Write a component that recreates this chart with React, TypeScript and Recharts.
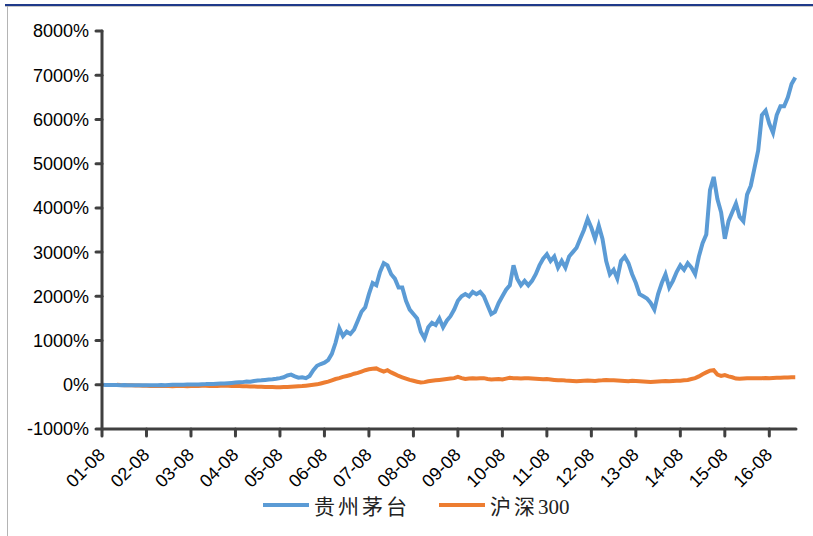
import { LineChart, Line, XAxis, YAxis } from "recharts";

// x axis: years since 2001-08, one label per August
const tickYears = [0, 1, 2, 3, 4, 5, 6, 7, 8, 9, 10, 11, 12, 13, 14, 15];
const tickLabels = [
  "01-08", "02-08", "03-08", "04-08", "05-08", "06-08", "07-08", "08-08",
  "09-08", "10-08", "11-08", "12-08", "13-08", "14-08", "15-08", "16-08",
];
const yTicks = [-1000, 0, 1000, 2000, 3000, 4000, 5000, 6000, 7000, 8000];

// monthly cumulative return (%), starting 2001-08
const maotai = [
  0, -3, -5, -4, -6, -8, -7, -9, -10, -12, -10, -12,
  -10, -8, -12, -9, -6, -8, -4, -2, 0, 3, 2, 5,
  4, 8, 6, 12, 15, 20, 18, 25, 30, 28, 35, 42,
  50, 55, 60, 75, 70, 85, 95, 100, 110, 120, 125, 135,
  150, 170, 210, 230, 190, 160, 170, 150, 200, 330, 430, 470,
  500, 560, 700, 950, 1280, 1100, 1200, 1150, 1250, 1450, 1650, 1750,
  2050, 2300, 2250, 2550, 2750, 2700, 2500, 2400, 2200, 2200, 1900, 1700,
  1600, 1500, 1200, 1050, 1300, 1400, 1350, 1500, 1300, 1450, 1550, 1700,
  1900, 2000, 2050, 2000, 2100, 2050, 2100, 2000, 1800, 1600, 1650, 1850,
  2000, 2150, 2250, 2700, 2400, 2250, 2350, 2250, 2350, 2500, 2700, 2850,
  2950, 2800, 2900, 2650, 2800, 2650, 2900, 3000, 3100, 3300, 3500, 3750,
  3550, 3300, 3600, 3300, 2800, 2500, 2600, 2400, 2800, 2900, 2750, 2500,
  2300, 2050, 2000, 1950, 1850, 1700, 2050, 2300, 2500, 2200, 2350, 2550,
  2700, 2600, 2750, 2650, 2500, 2900, 3200, 3400, 4400, 4700, 4200, 3900,
  3300, 3700, 3900, 4100, 3800, 3700, 4300, 4500, 4900, 5300, 6100, 6200,
  5900, 5700, 6100, 6300, 6300, 6500, 6800, 6950,
];

const hs300 = [
  null, null, null, null, 0, -5, -8, -10, -12, -15, -18, -20,
  -22, -25, -28, -26, -24, -28, -30, -32, -30, -28, -30, -32,
  -30, -28, -25, -22, -20, -25, -28, -25, -22, -20, -22, -25,
  -28, -30, -32, -35, -38, -40, -42, -45, -48, -50, -52, -55,
  -55, -52, -50, -45, -40, -35, -30, -20, -10, 0, 10, 30,
  50, 70, 100, 130, 150, 180, 200, 220, 250, 270, 300, 330,
  350, 360, 370, 330, 300, 330, 280, 240, 200, 170, 140, 110,
  90, 70, 50, 60, 80, 90, 100, 110, 120, 130, 140, 150,
  180, 150, 130, 140, 150, 140, 145, 150, 130, 120, 125, 130,
  120, 140, 160, 150, 145, 140, 150, 145, 140, 135, 130, 125,
  130, 120, 110, 100, 105, 95, 90, 85, 80, 85, 90, 95,
  90, 85, 95, 100, 110, 105, 100, 95, 90, 85, 80, 90,
  85, 80, 75, 70, 65, 70, 75, 80, 85, 80, 85, 90,
  90, 100, 110, 130, 150, 190, 240, 280, 320, 330, 230, 200,
  220, 190, 170, 140, 135, 140, 145, 150, 150, 145, 150, 155,
  150, 155, 160, 160, 165, 165, 170, 170,
];

const data = maotai.map((v, i) => ({ t: i / 12, maotai: v, hs300: hs300[i] }));

const BLUE = "#5B9BD5";
const ORANGE = "#ED7D31";
const AXIS = "#404040";
const sans = "'Liberation Sans', Arial, sans-serif";
const legendFont = "'Liberation Serif', 'Noto Sans CJK SC', serif";

const XTick = (props: any) => {
  const { x, y, payload } = props;
  const label = tickLabels[tickYears.indexOf(payload.value)];
  return (
    <g transform={`translate(${x + 4},${y + 18})`}>
      <text transform="rotate(-45)" textAnchor="end" fontSize={18} fontFamily={sans} fill="#000">
        {label}
      </text>
    </g>
  );
};

const LegendItem = ({ color, cjk, rest, left }: { color: string; cjk: string; rest: string; left: number }) => (
  <div style={{ position: "absolute", left, top: 490, display: "flex", alignItems: "center" }}>
    <div style={{ width: 46, height: 4, background: color, marginRight: 5 }} />
    <span style={{ fontFamily: legendFont, fontSize: 21, color: "#222", whiteSpace: "nowrap" }}>
      <span style={{ letterSpacing: 3 }}>{cjk}</span>
      {rest}
    </span>
  </div>
);

export default function App() {
  return (
    <div style={{ position: "absolute", left: 0, top: 0, width: 813, height: 536, background: "#fff" }}>
      <div style={{ position: "absolute", left: 5, top: 4, width: 808, height: 2, background: "#1f3a8a" }} />
      <div style={{ position: "absolute", left: 5, top: 6, width: 808, height: 1, background: "#c8c8c8" }} />
      <div style={{ position: "absolute", left: 7, top: 6, width: 1, height: 530, background: "#b4b4b4" }} />
      <LineChart
        width={813}
        height={536}
        data={data}
        margin={{ top: 31, right: 17, left: 0, bottom: 47 }}
      >
        <XAxis
          dataKey="t"
          type="number"
          domain={[0, 15.6]}
          ticks={tickYears}
          interval={0}
          height={60}
          tick={<XTick />}
          tickSize={7}
          tickMargin={2}
          axisLine={{ stroke: AXIS, strokeWidth: 3, strokeLinecap: "round" }}
          tickLine={{ stroke: AXIS, strokeWidth: 3, strokeLinecap: "round" }}
        />
        <YAxis
          type="number"
          domain={[-1000, 8000]}
          ticks={yTicks}
          interval={0}
          width={102}
          tickFormatter={(v: number) => `${v}%`}
          tick={{ fontSize: 18, fontFamily: sans, fill: "#000" }}
          tickSize={6}
          tickMargin={7}
          axisLine={{ stroke: AXIS, strokeWidth: 3, strokeLinecap: "round" }}
          tickLine={{ stroke: AXIS, strokeWidth: 3, strokeLinecap: "round" }}
        />
        <Line
          dataKey="hs300"
          stroke={ORANGE}
          strokeWidth={4}
          dot={false}
          isAnimationActive={false}
        />
        <Line
          dataKey="maotai"
          stroke={BLUE}
          strokeWidth={4}
          dot={false}
          isAnimationActive={false}
        />
      </LineChart>
      <LegendItem color={BLUE} cjk="贵州茅台" rest="" left={263} />
      <LegendItem color={ORANGE} cjk="沪深" rest="300" left={439} />
    </div>
  );
}
